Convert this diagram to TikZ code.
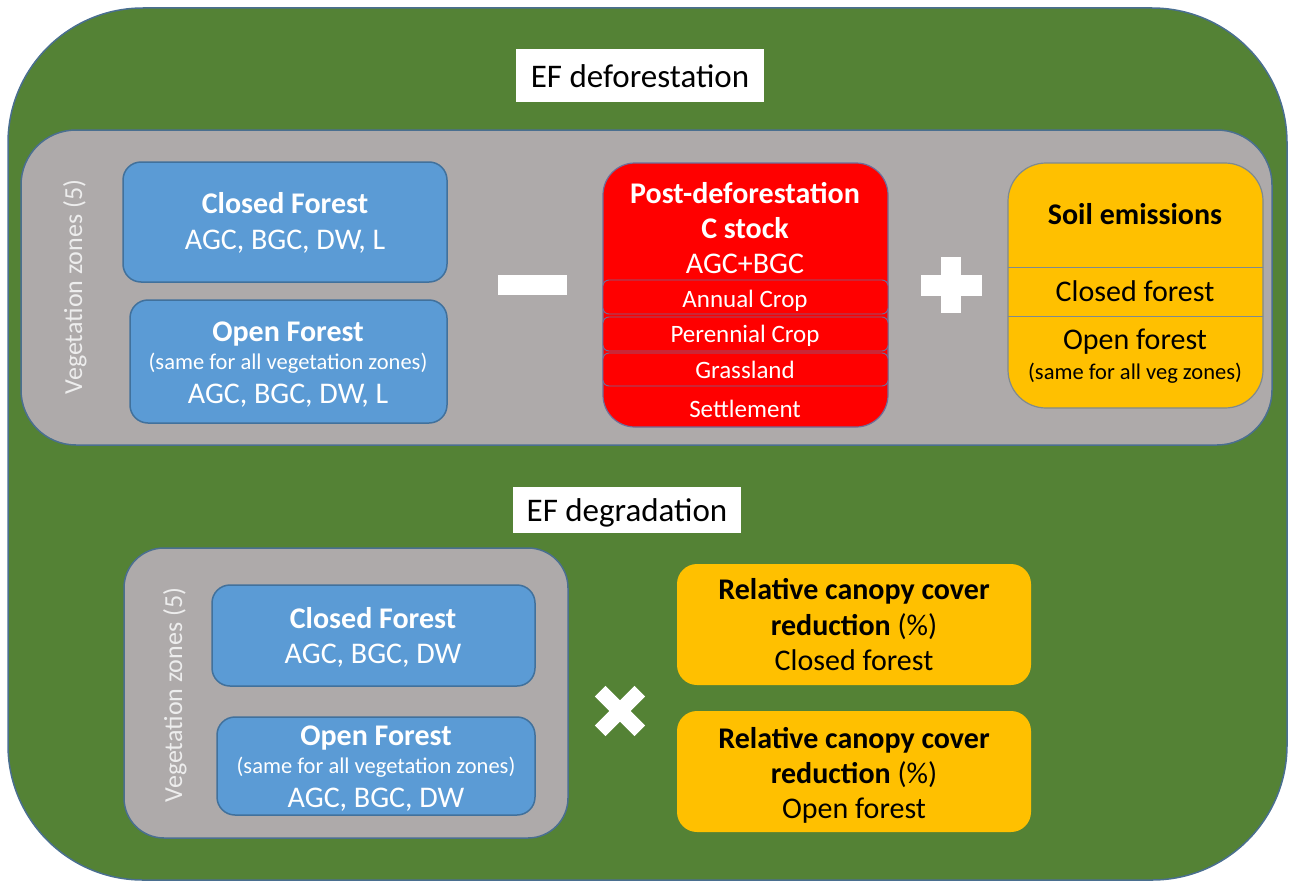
\documentclass[tikz,border=0pt]{standalone}
\usepackage{fontspec}
\setmainfont{Carlito}
\usetikzlibrary{fit}
\definecolor{bggreen}{HTML}{548235}
\definecolor{edgeblue}{HTML}{4A6F90}
\definecolor{panelgray}{HTML}{AEAAAA}
\definecolor{boxblue}{HTML}{5B9BD5}
\definecolor{boxblueedge}{HTML}{41719C}
\definecolor{boxred}{HTML}{FF0000}
\definecolor{rededge}{HTML}{6E6E9A}
\definecolor{boxyellow}{HTML}{FFC000}
\definecolor{yedge}{HTML}{7F8A8F}
\definecolor{vzcol}{HTML}{EDEDED}
\newcommand{\fBig}{\fontsize{30}{36}\selectfont}
\newcommand{\fMid}{\fontsize{25}{30}\selectfont}
\newcommand{\fSmall}{\fontsize{22.5}{27}\selectfont}
\newcommand{\fTitle}{\fontsize{33}{40}\selectfont}
\newcommand{\fVz}{\fontsize{26}{31}\selectfont}
\tikzset{
  shp/.style={inner sep=0pt, outer sep=0pt, fit={#1}},
  outer/.style={fill=bggreen, draw=edgeblue, line width=1.5pt, rounded corners=135pt},
  panel/.style={fill=panelgray, draw=edgeblue, line width=1.5pt},
  bluebox/.style={fill=boxblue, draw=boxblueedge, line width=1.5pt, rounded corners=18pt},
  redbox/.style={fill=boxred, draw=rededge, line width=1.2pt, rounded corners=32pt},
  redstrip/.style={fill=boxred, draw=rededge, line width=0.9pt, rounded corners=6pt},
  soilbox/.style={fill=boxyellow, draw=yedge, line width=1.2pt, rounded corners=38pt},
  ybox/.style={fill=boxyellow, draw=none, rounded corners=20pt},
  titlebox/.style={fill=white, draw=none},
  signshape/.style={fill=white, draw=none},
  txt/.style={inner sep=0pt, anchor=base, font=\fBig},
  wtxt/.style={txt, text=white},
  btxt/.style={txt, text=black},
}
\begin{document}
\begin{tikzpicture}[x=1pt, y=-1pt]
\useasboundingbox (0,0) rectangle (1289,883);
% outer green frame
\node[shp={(8,8) (1287,880)}, outer] (frame) {};
% titles
\node[shp={(516,49) (764,102)}, titlebox] (t1box) {};
\node[btxt, font=\fTitle] (t1) at (640,87) {EF deforestation};
\node[shp={(513,487) (741,533)}, titlebox] (t2box) {};
\node[btxt, font=\fTitle] (t2) at (627,521) {EF degradation};

% ===== top panel =====
\node[shp={(21,130) (1272,445)}, panel, rounded corners=55pt] (panel1) {};
\node[txt, text=vzcol, font=\fVz, rotate=90] (vz1) at (82,287) {Vegetation zones (5)};

\node[shp={(123,162) (447,282)}, bluebox] (cf1) {};
\node[wtxt] (cf1a) at (285,213) {\bfseries Closed Forest};
\node[wtxt] (cf1b) at (285,249) {AGC, BGC, DW, L};

\node[shp={(130,300) (447,423)}, bluebox] (of1) {};
\node[wtxt] (of1a) at (288,341) {\bfseries Open Forest};
\node[wtxt, font=\fSmall] (of1b) at (288,369) {(same for all vegetation zones)};
\node[wtxt] (of1c) at (288,403) {AGC, BGC, DW, L};

\node[shp={(498,275) (567,295)}, signshape] (minus) {};

\node[shp={(603,163) (888,427)}, redbox] (red) {};
\node[shp={(603,280) (888,314)}, redstrip] (rs1) {};
\node[shp={(603,317) (888,351)}, redstrip] (rs2) {};
\node[shp={(603,353) (888,386)}, redstrip] (rs3) {};
\node[wtxt] (r1) at (745,203) {\bfseries Post-deforestation};
\node[wtxt] (r2) at (745,238) {\bfseries C stock};
\node[wtxt] (r3) at (745,273) {AGC+BGC};
\node[wtxt, font=\fMid] (r4) at (745,307) {Annual Crop};
\node[wtxt, font=\fMid] (r5) at (745,342) {Perennial Crop};
\node[wtxt, font=\fMid] (r6) at (745,378) {Grassland};
\node[wtxt, font=\fMid] (r7) at (745,417) {Settlement};

\node[shp={(941,257) (961,313)}, signshape] (plusv) {};
\node[shp={(921,275) (982,296)}, signshape] (plush) {};

\node[shp={(1008,163) (1263,408)}, soilbox] (soil) {};
\draw[yedge, line width=0.9pt] (soil.west |- 0,267) coordinate (sl1a) -- (soil.east |- 0,267) coordinate (sl1b);
\draw[yedge, line width=0.9pt] (soil.west |- 0,316) coordinate (sl2a) -- (soil.east |- 0,316) coordinate (sl2b);
\node[btxt] (s1) at (1135,224) {\bfseries Soil emissions};
\node[btxt] (s2) at (1135,301) {Closed forest};
\node[btxt] (s3) at (1135,349) {Open forest};
\node[btxt, font=\fSmall] (s4) at (1135,379) {(same for all veg zones)};

% ===== bottom panel =====
\node[shp={(124,548) (568,838)}, panel, rounded corners=40pt] (panel2) {};
\node[txt, text=vzcol, font=\fVz, rotate=90] (vz2) at (182,695) {Vegetation zones (5)};

\node[shp={(212,585) (535,686)}, bluebox] (cf2) {};
\node[wtxt] (cf2a) at (373,628) {\bfseries Closed Forest};
\node[wtxt] (cf2b) at (373,663) {AGC, BGC, DW};

\node[shp={(217,717) (535,815)}, bluebox] (of2) {};
\node[wtxt] (of2a) at (376,745) {\bfseries Open Forest};
\node[wtxt, font=\fSmall] (of2b) at (376,773) {(same for all vegetation zones)};
\node[wtxt] (of2c) at (376,807) {AGC, BGC, DW};

\node[signshape, minimum width=56pt, minimum height=15pt, inner sep=0pt, rotate=45] (times1) at (620,711) {};
\node[signshape, minimum width=56pt, minimum height=15pt, inner sep=0pt, rotate=-45] (times2) at (620,711) {};

\node[shp={(677,564) (1031,685)}, ybox] (rc1) {};
\node[btxt] (rc1a) at (854,599) {\bfseries Relative canopy cover};
\node[btxt] (rc1b) at (854,635) {\textbf{reduction} (\%)};
\node[btxt] (rc1c) at (854,670) {Closed forest};

\node[shp={(677,711) (1031,832)}, ybox] (rc2) {};
\node[btxt] (rc2a) at (854,748) {\bfseries Relative canopy cover};
\node[btxt] (rc2b) at (854,783) {\textbf{reduction} (\%)};
\node[btxt] (rc2c) at (854,818) {Open forest};
\end{tikzpicture}
\end{document}
